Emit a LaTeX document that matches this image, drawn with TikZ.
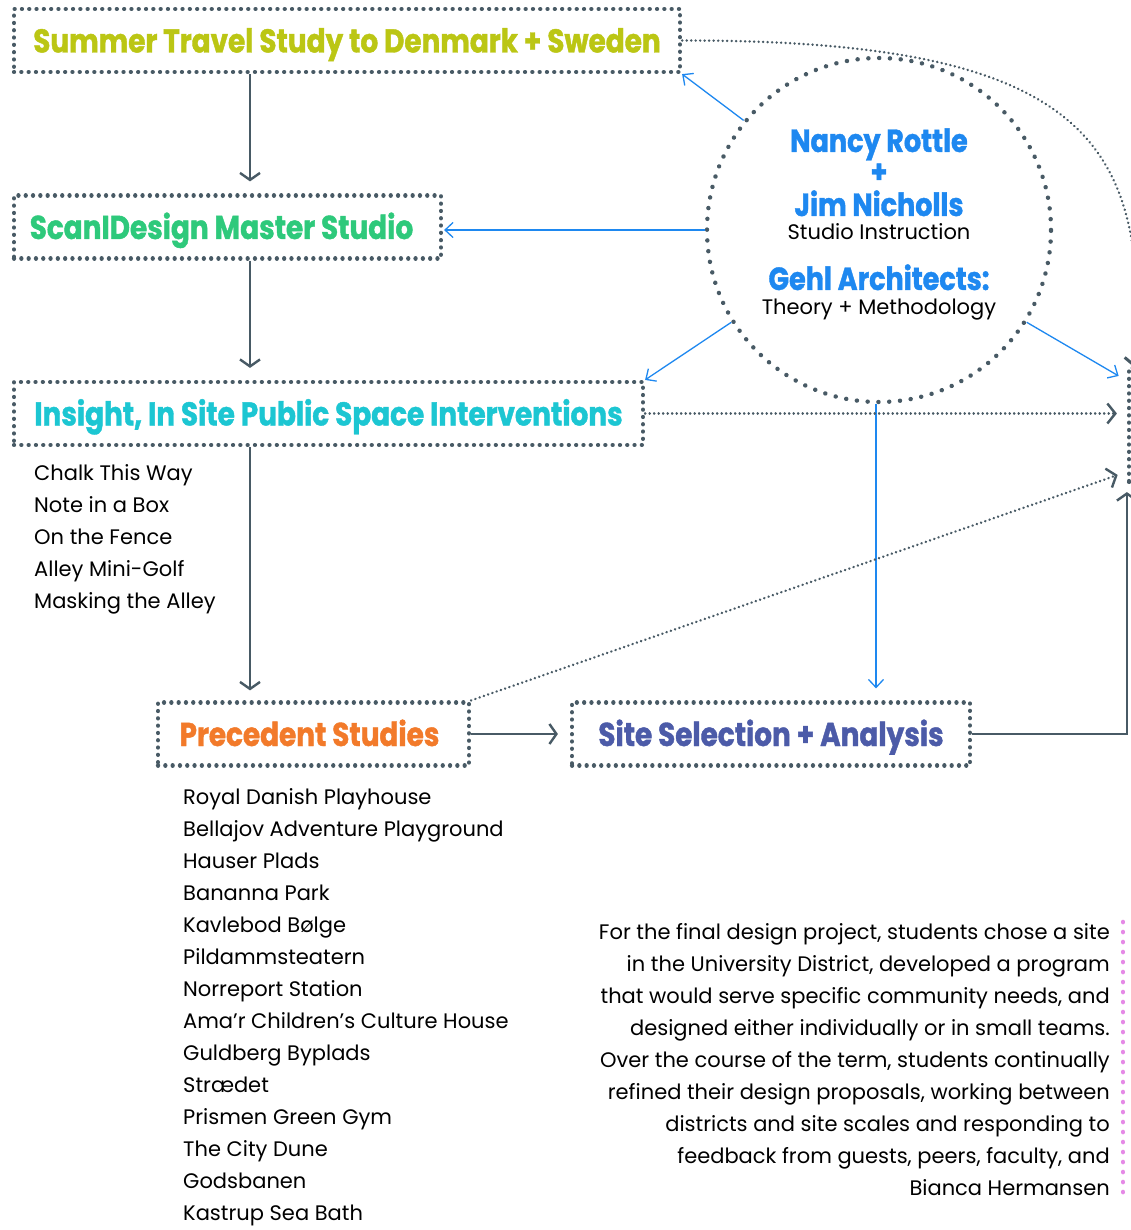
\documentclass[tikz,border=0pt]{standalone}
\usepackage{fontspec}
\setmainfont{Poppins}
\newfontfamily\headfont[FakeStretch=0.845,FakeBold=1.2]{Poppins}
\usetikzlibrary{arrows.meta,calc}
\definecolor{dotgray}{HTML}{485A65}
\definecolor{olivec}{HTML}{BBC614}
\definecolor{greenc}{HTML}{2EC97B}
\definecolor{cyanc}{HTML}{1CC6D2}
\definecolor{orangec}{HTML}{F27A2A}
\definecolor{slatec}{HTML}{4C5BA8}
\definecolor{bluec}{HTML}{1E88F0}
\definecolor{pinkc}{HTML}{E589E6}
\tikzset{
  dotbox/.style={rectangle, draw=dotgray, line width=4.2pt, line cap=round,
    dash pattern=on 0.1pt off 7.2pt, minimum height=63pt, inner sep=0pt,
    text height=24pt, text depth=0pt,
    font=\headfont\bfseries\fontsize{33}{33}\selectfont},
  ring/.style={circle, draw=dotgray, line width=4.4pt, line cap=round,
    dash pattern=on 0.1pt off 10.7pt, minimum size=344pt, inner sep=0pt},
  nametext/.style={font=\headfont\bfseries\fontsize{32}{32}\selectfont, text=bluec, anchor=base, inner sep=0pt},
  subtext/.style={font=\fontsize{21}{21}\selectfont, anchor=base, inner sep=0pt},
  listitem/.style={font=\fontsize{21}{21}\selectfont, anchor=base west, inner sep=0pt},
  paratext/.style={font=\fontsize{21}{21}\selectfont, anchor=base east, inner sep=0pt},
  flow/.style={draw=dotgray, line width=2.4pt,
    -{Straight Barb[length=7pt,width=20pt,line width=2.4pt]}},
  bluearrow/.style={draw=bluec, line width=1.3pt,
    -{Straight Barb[length=8pt,width=15pt,line width=1.3pt]}},
  dotline/.style={draw=dotgray, line width=2.6pt, line cap=round,
    dash pattern=on 0.1pt off 4.4pt},
  dotarrow/.style={dotline, -{Straight Barb[length=8pt,width=20pt,line width=2.4pt]}},
}
\begin{document}
\begin{tikzpicture}[x=1pt,y=-1pt]
\useasboundingbox (0,0) rectangle (1131,1230);
\clip (0,0) rectangle (1131,1230);
\fill[white] (0,0) rectangle (1131,1230);

% boxes
\node[dotbox, minimum width=666pt, text=olivec] (summer) at (347,40.5) {Summer Travel Study to Denmark + Sweden};
\node[dotbox, minimum width=427pt, text=greenc] (scan) at (227.5,227) {\hspace*{-12pt}ScanIDesign Master Studio};
\node[dotbox, minimum width=629pt, text=cyanc] (insight) at (328.5,413.5) {Insight, In Site Public Space Interventions};
\node[dotbox, minimum width=311pt, text=orangec] (prec) at (313.5,734) {\hspace*{-8pt}Precedent Studies};
\node[dotbox, minimum width=398pt, text=slatec] (site) at (771,734) {Site Selection + Analysis};
\node[dotbox, minimum width=142pt, minimum height=114pt] (goal) at (1200,425) {};

% circle
\node[ring] (circ) at (879,230) {};
\node[nametext] (nancy) at (879,152) {Nancy Rottle};
\node[nametext] (plus) at (879,183) {+};
\node[nametext] (jim) at (879,216) {Jim Nicholls};
\node[subtext] (studio) at (879,240) {Studio Instruction};
\node[nametext] (gehl) at (879,290) {Gehl Architects:};
\node[subtext] (theory) at (879,314) {Theory + Methodology};

% helper coordinates
\coordinate (spine) at (250,0);
\coordinate (g1) at (1129,382);
\coordinate (g3) at (1129,471);
\coordinate (gtop) at (1135,368);
\coordinate (csouth) at ($(circ.south)+(-3,0)$);

% gray flow arrows
\draw[flow, shorten >=12pt] (summer.south -| spine) -- (scan.north -| spine);
\draw[flow, shorten >=12pt] (scan.south -| spine) -- (insight.north -| spine);
\draw[flow, shorten >=10pt] (insight.south -| spine) -- (prec.north -| spine);
\draw[flow, shorten >=12pt] (prec.east) -- (site.west);
\draw[flow, shorten >=8pt] (site.east) -| (goal.south west);

% blue arrows
\draw[bluearrow] (circ.141.7) -- (summer.south east);
\draw[bluearrow, shorten >=1pt] (circ.west) -- (circ.west -| scan.east);
\draw[bluearrow] (circ.212.8) -- (insight.north east);
\draw[bluearrow, shorten >=12pt] (circ.328.7) -- (g1);
\draw[bluearrow, shorten >=12pt] (csouth) -- (csouth |- site.north);

% dotted connectors
\draw[dotarrow, shorten >=10pt] (insight.east) -- (insight.east -| goal.west);
\draw[dotarrow, shorten >=12pt] (prec.north east) -- (g3);
\draw[dotline, -{Straight Barb[length=8pt,width=22pt,line width=3pt]}]
  (summer.east) .. controls (1085,40) and (1150,140) .. (gtop);

% insight list
\foreach \t [count=\i from 0] in {Chalk This Way, Note in a Box, On the Fence, Alley Mini-Golf, Masking the Alley}
  \node[listitem] (ins\i) at (34,480+32*\i) {\t};

% precedent list
\foreach \t [count=\i from 0] in {Royal Danish Playhouse, Bellajov Adventure Playground, Hauser Plads, Bananna Park, Kavlebod Bølge, Pildammsteatern, Norreport Station, Ama’r Children’s Culture House, Guldberg Byplads, Strædet, Prismen Green Gym, The City Dune, Godsbanen, Kastrup Sea Bath}
  \node[listitem] (pre\i) at (183,804+32*\i) {\t};

% paragraph
\foreach \t [count=\i from 0] in {For the final design project{,} students chose a site,
  in the University District{,} developed a program,
  that would serve specific community needs{,} and,
  designed either individually or in small teams.,
  Over the course of the term{,} students continually,
  refined their design proposals{,} working between,
  districts and site scales and responding to,
  feedback from guests{,} peers{,} faculty{,} and,
  Bianca Hermansen}
  \node[paratext] (par\i) at (1110,939+32*\i) {\t};
\coordinate (pinktop) at (1123,922);
\coordinate (pinkbot) at (1123,1195);
\draw[draw=pinkc, line width=4.6pt, line cap=round, dash pattern=on 0.1pt off 9.9pt] (pinktop) -- (pinkbot);
\end{tikzpicture}
\end{document}
